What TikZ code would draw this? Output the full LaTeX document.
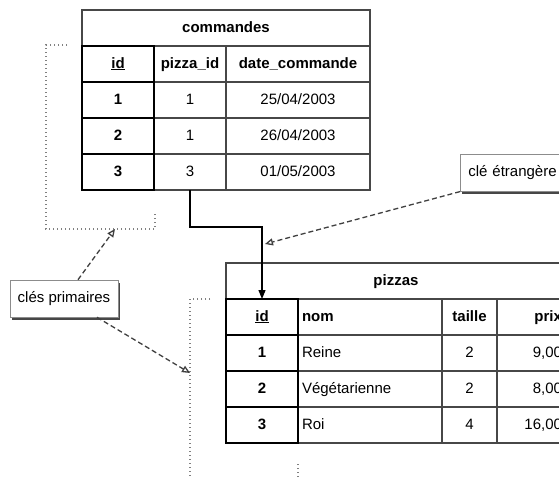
\documentclass[tikz,border=0pt]{standalone}
\usepackage{fontspec}
\setmainfont{Liberation Sans}
\usetikzlibrary{arrows.meta,shadows}
\definecolor{tabline}{gray}{0.28}
\definecolor{noteline}{gray}{0.55}
\newcommand{\ulkey}[1]{\underline{#1}}

\begin{document}
\begin{tikzpicture}[x=1pt,y=-1pt,
    cell/.style={draw=tabline, line width=1.1pt, minimum height=36pt, inner sep=0pt, outer sep=0pt,
        text height=11pt, text depth=3pt, font=\fontsize{15}{18}\selectfont},
    head/.style={cell, font=\fontsize{15}{18}\selectfont\bfseries},
    keycell/.style={cell, draw=black, line width=2.4pt, minimum width=72pt, font=\fontsize{15}{18}\selectfont\bfseries},
    note/.style={draw=noteline, line width=0.6pt, fill=white, minimum height=37pt, inner sep=0pt, font=\fontsize{15}{18}\selectfont,
        drop shadow={shadow xshift=1.5pt, shadow yshift=-2.5pt, fill=black!80, opacity=0.9}},
    pointer/.style={draw=black!75, line width=1.3pt, dash pattern=on 5pt off 3pt, -{Triangle[open, length=8pt, width=7pt]}},
    bracket/.style={draw=gray, line width=1.1pt, dash pattern=on 1pt off 3pt}]
        \clip (0,0) rectangle (559,477);
        \fill[white] (0,0) rectangle (559,477);

        % commandes
        \node[head, minimum width=288pt] (cmd) at (226,28) {commandes};
        \node[head, minimum width=72pt] (cmd-pid) at (190,64) {pizza\_id};
        \node[head, minimum width=144pt] (cmd-date) at (298,64) {date\_commande};
        \node[cell, minimum width=72pt] (cmd-pid1) at (190,100) {1};
        \node[cell, minimum width=144pt] (cmd-date1) at (298,100) {25/04/2003};
        \node[cell, minimum width=72pt] (cmd-pid2) at (190,136) {1};
        \node[cell, minimum width=144pt] (cmd-date2) at (298,136) {26/04/2003};
        \node[cell, minimum width=72pt] (cmd-pid3) at (190,172) {3};
        \node[cell, minimum width=144pt] (cmd-date3) at (298,172) {01/05/2003};
        \node[keycell] (cmd-id) at (118,64) {\ulkey{id}};
        \node[keycell] (cmd-id1) at (118,100) {1};
        \node[keycell] (cmd-id2) at (118,136) {2};
        \node[keycell] (cmd-id3) at (118,172) {3};

        % pizzas
        \node[head, minimum width=340pt] (piz) at (396,281) {pizzas};
        \node[head, minimum width=144pt, text width=136pt, align=left] (piz-nom) at (370,317) {nom};
        \node[head, minimum width=55pt] (piz-taille) at (469.5,317) {taille};
        \node[head, minimum width=69pt, text width=61pt, align=right] (piz-prix) at (531.5,317) {prix};
        \node[cell, minimum width=144pt, text width=136pt, align=left] (piz-nom1) at (370,353) {Reine};
        \node[cell, minimum width=55pt] (piz-taille1) at (469.5,353) {2};
        \node[cell, minimum width=69pt, text width=61pt, align=right] (piz-prix1) at (531.5,353) {9,00};
        \node[cell, minimum width=144pt, text width=136pt, align=left] (piz-nom2) at (370,389) {Végétarienne};
        \node[cell, minimum width=55pt] (piz-taille2) at (469.5,389) {2};
        \node[cell, minimum width=69pt, text width=61pt, align=right] (piz-prix2) at (531.5,389) {8,00};
        \node[cell, minimum width=144pt, text width=136pt, align=left] (piz-nom3) at (370,425) {Roi};
        \node[cell, minimum width=55pt] (piz-taille3) at (469.5,425) {4};
        \node[cell, minimum width=69pt, text width=61pt, align=right] (piz-prix3) at (531.5,425) {16,00};
        \node[keycell] (piz-id) at (262,317) {\ulkey{id}};
        \node[keycell] (piz-id1) at (262,353) {1};
        \node[keycell] (piz-id2) at (262,389) {2};
        \node[keycell] (piz-id3) at (262,425) {3};

        % lien pizza_id -> id
        \draw[line width=1.2pt, -{Triangle[length=9pt, width=7pt]}] (cmd-pid3.south) -- ++(0,37) -| (piz-id.north);

        % accolades des cles primaires
        \draw[bracket] (67,45) -- (46,45) -- (46,229) -- (155,229) -- (155,213);
        \draw[bracket] (210,299) -- (190,299) -- (190,490) -- (298,490) -- (298,462);

        % notes
        \node[note, minimum width=108pt] (pk) at (64,298.5) {clés primaires};
        \node[note, text width=110pt, align=left, inner xsep=8pt, anchor=north west] (fk) at (460,154) {clé étrangère};

        \coordinate (pk-cmd) at (115,229);
        \coordinate (pk-piz) at (190,373);
        \coordinate (fk-end) at (265,244);
        \draw[pointer] ([xshift=14pt]pk.north) -- (pk-cmd);
        \draw[pointer] ([xshift=33pt]pk.south) -- (pk-piz);
        \draw[pointer] (fk.south west) -- (fk-end);
    \end{tikzpicture}
\end{document}
